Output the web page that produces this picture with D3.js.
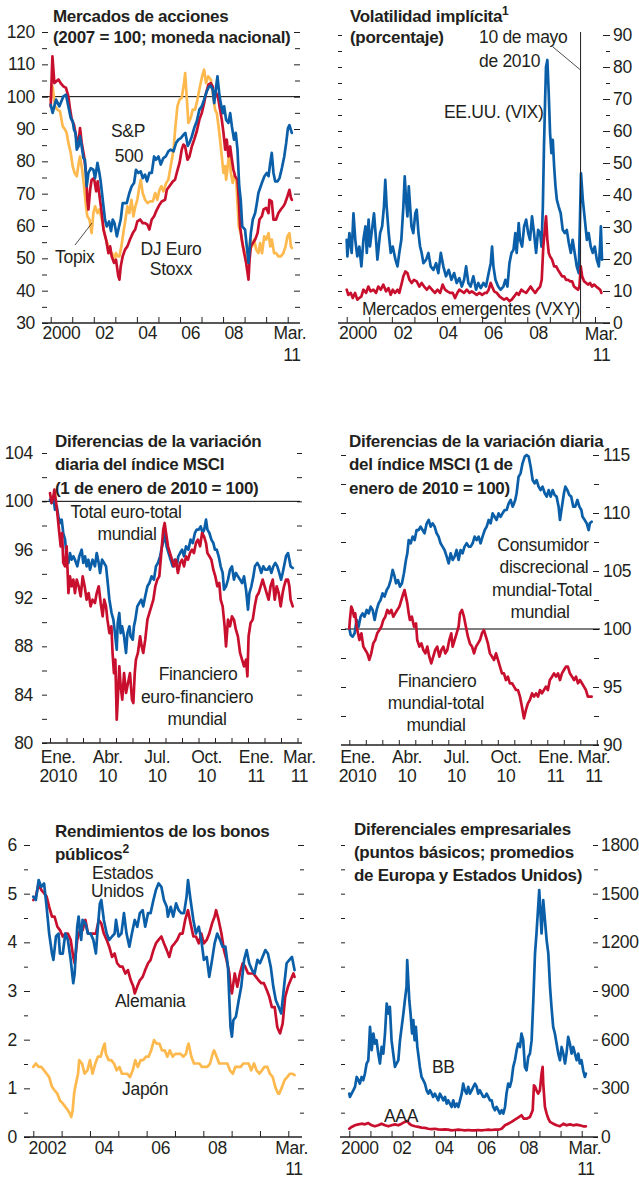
<!DOCTYPE html>
<html>
<head>
<meta charset="utf-8">
<script src="https://cdn.jsdelivr.net/npm/d3@7"></script>
<style>
  body { margin: 0; background: #fff; }
  svg text { font-family: "Liberation Sans", Arial, sans-serif; fill: #231f20; }
  .tick text, .xlab, .lab { font-size: 17.5px; letter-spacing: -0.3px; }
  .title { font-size: 17px; font-weight: bold; letter-spacing: -0.3px; }
</style>
</head>
<body>
<svg width="639" height="1179"></svg>
<script>

// DATA ––––––––––––––––––––––––––––––––––––––––––––––––––––––––––––––––
// [decimal year, value]

// Mercados de acciones (2007 = 100)
const spx = [[2000.0,97.5],[2000.09,95.0],[2000.25,99.1],[2000.40,97.0],[2000.59,100.1],[2000.71,100.6],[2000.82,97.0],[2000.93,93.4],[2001.02,92.4],[2001.08,89.8],[2001.15,88.8],[2001.21,83.6],[2001.28,84.6],[2001.36,87.7],[2001.44,84.6],[2001.52,81.0],[2001.59,80.5],[2001.67,72.3],[2001.75,76.4],[2001.86,77.9],[2001.98,77.4],[2002.06,74.8],[2002.17,79.5],[2002.26,76.4],[2002.32,73.8],[2002.45,66.1],[2002.52,62.0],[2002.60,59.9],[2002.71,61.4],[2002.80,58.4],[2002.88,62.0],[2002.96,60.9],[2003.07,56.8],[2003.14,58.9],[2003.25,62.0],[2003.34,67.1],[2003.53,67.1],[2003.65,70.2],[2003.76,72.3],[2003.87,73.3],[2003.96,77.4],[2004.07,76.4],[2004.18,76.9],[2004.27,74.8],[2004.38,75.9],[2004.47,73.8],[2004.58,76.4],[2004.69,76.4],[2004.80,81.5],[2004.89,80.5],[2005.00,81.5],[2005.11,79.0],[2005.23,81.0],[2005.34,81.5],[2005.46,83.1],[2005.57,83.6],[2005.70,83.1],[2005.82,85.7],[2005.93,86.7],[2006.04,87.2],[2006.16,88.2],[2006.25,88.8],[2006.36,84.8],[2006.44,85.7],[2006.55,87.7],[2006.66,90.3],[2006.78,92.4],[2006.90,96.0],[2007.01,97.0],[2007.12,99.1],[2007.24,101.6],[2007.34,103.0],[2007.43,103.4],[2007.52,102.2],[2007.59,98.0],[2007.68,103.2],[2007.74,106.3],[2007.82,101.1],[2007.89,98.0],[2007.99,94.9],[2008.05,97.0],[2008.14,92.9],[2008.25,91.9],[2008.33,94.9],[2008.41,90.8],[2008.51,86.7],[2008.59,88.8],[2008.67,83.6],[2008.75,72.3],[2008.82,68.1],[2008.89,59.9],[2009.02,58.9],[2009.10,53.7],[2009.18,48.6],[2009.29,57.8],[2009.38,62.0],[2009.49,64.0],[2009.57,67.1],[2009.64,70.2],[2009.80,73.3],[2009.92,75.4],[2010.03,76.4],[2010.11,75.4],[2010.19,79.5],[2010.26,82.6],[2010.34,76.4],[2010.42,73.8],[2010.53,73.8],[2010.62,74.8],[2010.73,77.9],[2010.84,81.5],[2010.93,85.7],[2011.01,90.2],[2011.08,91.2],[2011.19,88.8]];
const euroStoxx = [[2000.0,97.0],[2000.08,112.5],[2000.17,104.2],[2000.36,105.3],[2000.46,104.2],[2000.59,103.2],[2000.71,102.7],[2000.82,100.1],[2000.90,96.0],[2000.98,92.9],[2001.08,91.3],[2001.21,86.7],[2001.28,84.6],[2001.36,90.3],[2001.44,85.7],[2001.55,81.5],[2001.64,76.4],[2001.70,68.1],[2001.75,65.1],[2001.83,71.2],[2001.90,74.3],[2002.01,74.8],[2002.11,70.7],[2002.18,73.8],[2002.29,68.1],[2002.37,64.0],[2002.45,58.9],[2002.57,55.8],[2002.68,51.6],[2002.76,53.7],[2002.83,50.6],[2002.94,48.6],[2003.03,49.6],[2003.14,44.4],[2003.19,43.4],[2003.25,47.5],[2003.34,50.6],[2003.45,52.7],[2003.56,53.7],[2003.68,55.8],[2003.81,57.8],[2003.92,58.9],[2004.02,61.4],[2004.15,62.0],[2004.27,60.9],[2004.38,60.9],[2004.49,60.4],[2004.58,58.9],[2004.69,62.0],[2004.80,63.0],[2004.89,64.5],[2005.05,66.6],[2005.15,67.6],[2005.31,68.1],[2005.39,71.2],[2005.51,72.3],[2005.67,73.8],[2005.77,74.3],[2005.85,76.4],[2005.98,79.5],[2006.08,83.6],[2006.16,85.2],[2006.24,84.6],[2006.35,80.5],[2006.44,81.5],[2006.55,84.6],[2006.66,86.7],[2006.78,89.3],[2006.90,92.9],[2007.01,94.9],[2007.12,98.0],[2007.21,101.1],[2007.32,103.7],[2007.43,104.2],[2007.52,103.2],[2007.59,99.1],[2007.68,101.1],[2007.76,100.1],[2007.86,96.0],[2007.94,92.9],[2008.02,88.8],[2008.10,83.6],[2008.17,86.7],[2008.25,81.5],[2008.33,84.6],[2008.41,80.5],[2008.48,77.4],[2008.56,75.4],[2008.67,74.3],[2008.73,68.1],[2008.79,59.9],[2008.87,55.8],[2008.98,51.6],[2009.07,48.6],[2009.18,43.4],[2009.23,49.6],[2009.29,53.7],[2009.38,54.7],[2009.49,55.8],[2009.60,57.8],[2009.69,62.0],[2009.80,63.0],[2009.88,65.1],[2010.00,65.6],[2010.11,64.0],[2010.15,68.1],[2010.26,67.6],[2010.34,62.0],[2010.46,62.0],[2010.57,64.0],[2010.68,65.1],[2010.80,66.1],[2010.88,67.1],[2010.99,69.2],[2011.08,71.2],[2011.15,68.7],[2011.19,68.1]];
const topix = [[2000.0,99.1],[2000.09,103.2],[2000.20,97.0],[2000.31,96.0],[2000.43,95.5],[2000.56,90.8],[2000.67,89.8],[2000.74,88.8],[2000.82,85.7],[2000.93,82.6],[2001.02,78.5],[2001.11,76.4],[2001.21,75.4],[2001.30,79.5],[2001.36,81.5],[2001.46,77.4],[2001.55,72.3],[2001.64,66.1],[2001.70,63.0],[2001.80,62.0],[2001.90,57.8],[2001.98,64.0],[2002.06,66.1],[2002.17,64.0],[2002.26,65.1],[2002.34,63.0],[2002.41,60.9],[2002.49,57.8],[2002.57,55.8],[2002.68,53.7],[2002.76,51.6],[2002.85,51.6],[2002.94,49.6],[2003.03,51.6],[2003.10,50.6],[2003.19,50.6],[2003.28,53.7],[2003.37,57.8],[2003.47,62.0],[2003.56,66.1],[2003.65,64.0],[2003.75,68.1],[2003.84,63.0],[2003.93,66.1],[2004.02,68.1],[2004.12,72.3],[2004.18,74.3],[2004.27,70.2],[2004.38,68.1],[2004.49,67.1],[2004.61,67.6],[2004.74,67.6],[2004.85,70.2],[2004.95,68.1],[2005.05,71.2],[2005.14,72.3],[2005.23,70.7],[2005.36,73.3],[2005.46,74.3],[2005.57,78.5],[2005.70,83.6],[2005.79,90.8],[2005.88,97.0],[2005.98,99.1],[2006.08,99.6],[2006.19,104.2],[2006.24,107.3],[2006.32,99.1],[2006.39,91.9],[2006.50,93.4],[2006.59,96.0],[2006.70,96.0],[2006.81,99.1],[2006.93,103.2],[2007.03,106.3],[2007.12,108.4],[2007.21,104.2],[2007.31,106.3],[2007.43,105.3],[2007.52,101.1],[2007.63,96.0],[2007.71,94.9],[2007.79,90.8],[2007.86,86.7],[2007.94,81.5],[2008.02,76.4],[2008.10,78.5],[2008.14,74.3],[2008.20,77.4],[2008.30,83.6],[2008.36,76.4],[2008.45,73.3],[2008.51,75.4],[2008.61,74.3],[2008.67,67.1],[2008.73,59.9],[2008.82,57.8],[2008.92,53.7],[2009.01,51.6],[2009.10,48.6],[2009.18,48.6],[2009.26,55.8],[2009.35,53.7],[2009.44,55.8],[2009.54,52.7],[2009.64,51.6],[2009.72,54.7],[2009.81,51.6],[2009.91,56.8],[2010.00,55.8],[2010.11,57.8],[2010.19,53.7],[2010.26,55.8],[2010.37,51.6],[2010.46,51.6],[2010.57,50.6],[2010.68,50.6],[2010.80,51.6],[2010.90,53.7],[2010.99,56.8],[2011.08,57.8],[2011.15,53.7],[2011.19,53.2]];

// Volatilidad implícita (porcentaje)
const vix = [[2000.0,26.0],[2000.03,20.8],[2000.12,28.1],[2000.22,21.9],[2000.30,34.3],[2000.38,26.0],[2000.47,20.8],[2000.56,23.9],[2000.65,17.7],[2000.74,26.0],[2000.83,30.2],[2000.89,21.9],[2000.97,32.3],[2001.03,23.9],[2001.12,29.1],[2001.21,34.3],[2001.30,26.0],[2001.36,19.8],[2001.48,28.1],[2001.57,30.2],[2001.65,36.4],[2001.71,44.7],[2001.77,36.4],[2001.86,28.1],[2001.95,21.9],[2002.04,23.9],[2002.16,19.8],[2002.25,17.7],[2002.33,21.9],[2002.42,26.0],[2002.51,36.4],[2002.57,45.8],[2002.63,38.5],[2002.69,33.3],[2002.75,42.7],[2002.81,36.4],[2002.87,30.2],[2002.95,28.1],[2003.04,34.3],[2003.10,35.4],[2003.18,28.1],[2003.25,23.9],[2003.32,21.9],[2003.40,18.7],[2003.52,19.8],[2003.62,21.9],[2003.72,17.7],[2003.84,16.6],[2003.96,18.7],[2004.06,15.6],[2004.17,21.9],[2004.28,17.7],[2004.40,14.6],[2004.52,16.6],[2004.64,13.5],[2004.76,15.6],[2004.87,12.5],[2004.99,14.0],[2005.10,11.4],[2005.20,13.5],[2005.29,17.7],[2005.39,12.5],[2005.49,11.4],[2005.61,14.6],[2005.73,10.4],[2005.83,12.5],[2005.94,10.9],[2006.06,12.5],[2006.17,11.4],[2006.29,15.6],[2006.38,18.7],[2006.44,23.9],[2006.50,17.7],[2006.59,13.5],[2006.71,11.4],[2006.82,10.4],[2006.94,11.4],[2007.03,13.5],[2007.12,11.4],[2007.21,18.7],[2007.30,21.9],[2007.39,22.9],[2007.47,28.1],[2007.53,21.9],[2007.62,31.2],[2007.68,26.0],[2007.77,23.9],[2007.86,30.2],[2007.95,32.3],[2008.04,28.1],[2008.12,26.0],[2008.21,33.3],[2008.30,28.1],[2008.39,21.9],[2008.48,29.1],[2008.57,28.1],[2008.63,23.9],[2008.69,36.4],[2008.74,55.2],[2008.79,69.7],[2008.83,80.1],[2008.89,82.2],[2008.95,71.8],[2009.01,59.3],[2009.07,53.1],[2009.13,57.2],[2009.19,48.9],[2009.25,42.7],[2009.31,38.5],[2009.39,36.4],[2009.48,34.3],[2009.57,29.1],[2009.66,28.1],[2009.75,29.1],[2009.84,25.0],[2009.93,21.9],[2010.01,26.0],[2010.10,21.9],[2010.19,17.7],[2010.28,15.6],[2010.34,34.3],[2010.38,46.8],[2010.46,38.5],[2010.55,32.3],[2010.64,26.0],[2010.72,28.1],[2010.81,23.9],[2010.90,21.9],[2010.99,23.9],[2011.08,19.8],[2011.17,17.7],[2011.23,25.0],[2011.26,30.2],[2011.31,19.8]];
const vxy = [[2000.0,10.4],[2000.07,8.8],[2000.18,9.4],[2000.27,7.8],[2000.37,9.4],[2000.47,7.3],[2000.56,7.8],[2000.65,8.3],[2000.74,10.4],[2000.86,9.4],[2000.96,11.4],[2001.06,9.9],[2001.18,10.4],[2001.30,9.4],[2001.40,11.4],[2001.51,10.4],[2001.62,12.0],[2001.74,9.9],[2001.85,10.9],[2001.95,8.8],[2002.04,10.4],[2002.14,9.4],[2002.25,10.4],[2002.33,9.4],[2002.44,12.5],[2002.51,14.6],[2002.60,16.1],[2002.69,15.6],[2002.78,13.5],[2002.88,12.5],[2002.98,13.5],[2003.10,13.0],[2003.22,11.4],[2003.32,12.5],[2003.43,11.4],[2003.55,10.4],[2003.66,11.4],[2003.78,10.4],[2003.91,9.4],[2004.02,10.4],[2004.14,9.4],[2004.25,12.0],[2004.36,10.4],[2004.46,9.9],[2004.58,9.4],[2004.70,9.4],[2004.80,7.8],[2004.90,9.4],[2004.99,10.4],[2005.10,9.9],[2005.20,9.4],[2005.32,10.4],[2005.44,9.4],[2005.54,9.9],[2005.64,9.4],[2005.76,8.8],[2005.88,9.4],[2006.00,8.8],[2006.12,9.4],[2006.20,9.4],[2006.29,10.4],[2006.38,12.5],[2006.44,11.4],[2006.53,9.9],[2006.65,9.4],[2006.77,8.3],[2006.87,7.8],[2006.97,7.3],[2007.09,7.8],[2007.21,6.8],[2007.31,7.3],[2007.42,8.3],[2007.53,9.4],[2007.62,8.8],[2007.74,10.4],[2007.83,9.9],[2007.95,9.4],[2008.05,10.4],[2008.15,11.4],[2008.24,10.4],[2008.35,9.4],[2008.45,10.4],[2008.57,11.4],[2008.64,13.5],[2008.71,23.9],[2008.79,30.2],[2008.83,33.3],[2008.89,26.0],[2008.95,21.9],[2009.01,20.8],[2009.10,19.8],[2009.19,17.7],[2009.28,17.7],[2009.36,16.6],[2009.45,15.6],[2009.54,14.6],[2009.63,14.6],[2009.72,13.5],[2009.81,13.5],[2009.90,13.0],[2009.99,13.0],[2010.07,11.4],[2010.16,10.9],[2010.25,10.4],[2010.31,11.4],[2010.37,17.7],[2010.43,14.6],[2010.52,13.0],[2010.61,12.5],[2010.69,12.0],[2010.78,12.5],[2010.87,11.4],[2010.96,12.0],[2011.05,11.4],[2011.14,10.9],[2011.23,10.4],[2011.28,9.4]];
const flashCrash = 2010.36;

// Diferencias MSCI, zona del euro (1 de enero de 2010 = 100)
const totalEuro = [[2010.000,100.14],[2010.008,99.86],[2010.017,100.41],[2010.025,99.31],[2010.034,99.59],[2010.042,98.76],[2010.051,98.21],[2010.059,98.48],[2010.067,97.38],[2010.076,96.83],[2010.084,95.45],[2010.093,94.90],[2010.101,95.72],[2010.109,95.17],[2010.118,95.45],[2010.126,95.17],[2010.138,94.62],[2010.148,95.45],[2010.160,96.00],[2010.168,94.90],[2010.177,95.45],[2010.185,94.62],[2010.194,95.17],[2010.202,94.34],[2010.215,95.17],[2010.227,94.62],[2010.236,95.72],[2010.246,94.90],[2010.253,94.07],[2010.263,95.17],[2010.273,94.90],[2010.283,94.62],[2010.290,93.52],[2010.300,91.86],[2010.311,90.76],[2010.320,90.21],[2010.328,89.10],[2010.337,87.72],[2010.342,89.93],[2010.350,90.76],[2010.357,89.10],[2010.364,89.66],[2010.374,88.83],[2010.384,87.45],[2010.391,89.10],[2010.401,89.66],[2010.407,88.83],[2010.418,88.55],[2010.424,89.66],[2010.431,90.21],[2010.441,91.31],[2010.451,91.59],[2010.461,91.86],[2010.471,91.31],[2010.481,92.14],[2010.492,92.97],[2010.502,93.24],[2010.513,93.79],[2010.525,93.52],[2010.535,94.62],[2010.545,94.90],[2010.556,95.45],[2010.566,96.28],[2010.576,96.83],[2010.582,97.38],[2010.589,96.28],[2010.599,95.72],[2010.609,95.17],[2010.620,94.62],[2010.630,95.17],[2010.640,94.62],[2010.648,95.45],[2010.657,95.72],[2010.667,96.00],[2010.677,95.45],[2010.687,96.28],[2010.699,96.00],[2010.710,96.83],[2010.721,96.55],[2010.732,97.38],[2010.741,97.66],[2010.751,97.66],[2010.761,97.93],[2010.771,97.38],[2010.779,97.66],[2010.788,98.48],[2010.795,97.66],[2010.805,97.38],[2010.815,96.83],[2010.825,96.55],[2010.833,96.00],[2010.842,96.00],[2010.852,95.45],[2010.862,94.62],[2010.872,94.07],[2010.879,92.69],[2010.889,92.97],[2010.899,93.52],[2010.909,94.34],[2010.919,94.62],[2010.929,93.52],[2010.939,94.07],[2010.949,93.79],[2010.960,93.52],[2010.970,93.24],[2010.980,93.79],[2010.990,92.69],[2011.000,91.03],[2011.007,92.41],[2011.017,92.97],[2011.027,93.79],[2011.035,94.62],[2011.047,94.90],[2011.057,94.62],[2011.067,94.07],[2011.077,94.62],[2011.088,94.34],[2011.098,94.34],[2011.108,94.62],[2011.118,94.07],[2011.128,94.62],[2011.138,94.90],[2011.148,94.62],[2011.158,94.07],[2011.167,93.52],[2011.175,94.07],[2011.182,94.62],[2011.192,95.45],[2011.202,95.72],[2011.209,95.17],[2011.215,94.62],[2011.226,94.48]];
const finEuro = [[2010.000,100.69],[2010.008,99.86],[2010.017,100.41],[2010.022,100.97],[2010.029,100.14],[2010.037,99.03],[2010.047,97.38],[2010.054,96.28],[2010.061,97.38],[2010.067,94.90],[2010.076,94.62],[2010.084,96.28],[2010.093,92.41],[2010.101,93.79],[2010.109,92.97],[2010.118,93.52],[2010.126,92.41],[2010.135,93.52],[2010.145,92.97],[2010.155,92.14],[2010.165,93.79],[2010.175,92.97],[2010.185,91.86],[2010.195,92.41],[2010.205,91.31],[2010.215,91.86],[2010.227,91.59],[2010.236,92.41],[2010.246,92.97],[2010.256,91.59],[2010.266,90.48],[2010.274,91.86],[2010.283,91.31],[2010.290,90.21],[2010.300,89.10],[2010.310,89.66],[2010.316,87.45],[2010.323,85.79],[2010.330,86.90],[2010.337,81.93],[2010.343,83.86],[2010.350,86.34],[2010.357,84.69],[2010.365,83.59],[2010.374,85.79],[2010.384,84.14],[2010.394,84.97],[2010.404,85.79],[2010.414,83.59],[2010.421,83.31],[2010.428,85.79],[2010.434,86.90],[2010.444,87.45],[2010.455,88.83],[2010.463,88.00],[2010.471,87.45],[2010.481,88.55],[2010.492,90.21],[2010.502,90.76],[2010.512,91.31],[2010.522,91.86],[2010.532,92.97],[2010.542,93.52],[2010.552,93.79],[2010.562,95.72],[2010.572,97.66],[2010.579,98.21],[2010.586,97.38],[2010.596,96.28],[2010.606,95.72],[2010.616,95.17],[2010.626,94.62],[2010.636,95.17],[2010.646,94.07],[2010.657,94.90],[2010.667,95.17],[2010.677,94.62],[2010.687,95.45],[2010.697,95.17],[2010.707,95.72],[2010.717,96.00],[2010.727,95.72],[2010.737,96.55],[2010.747,96.83],[2010.758,96.28],[2010.768,97.38],[2010.778,97.10],[2010.788,96.55],[2010.795,95.72],[2010.805,95.45],[2010.815,95.17],[2010.825,94.34],[2010.835,93.79],[2010.845,92.97],[2010.855,93.24],[2010.862,91.86],[2010.872,91.31],[2010.882,89.66],[2010.889,88.00],[2010.899,90.21],[2010.909,89.66],[2010.919,90.48],[2010.929,90.21],[2010.939,89.38],[2010.949,88.83],[2010.960,87.45],[2010.970,86.90],[2010.980,86.34],[2010.990,86.90],[2010.997,85.52],[2011.003,88.83],[2011.013,89.93],[2011.024,90.21],[2011.034,91.31],[2011.044,92.14],[2011.054,92.41],[2011.064,92.97],[2011.074,93.52],[2011.084,92.97],[2011.094,92.41],[2011.104,91.86],[2011.114,92.97],[2011.125,93.52],[2011.135,91.86],[2011.145,92.97],[2011.155,92.41],[2011.165,91.31],[2011.175,92.41],[2011.182,92.97],[2011.192,93.52],[2011.202,93.52],[2011.209,92.97],[2011.215,91.86],[2011.226,91.31]];

// Diferencias MSCI, mundial (1 de enero de 2010 = 100)
const consDisc = [[2010.000,100.06],[2010.007,99.48],[2010.017,99.34],[2010.027,99.63],[2010.037,100.78],[2010.047,100.20],[2010.057,101.06],[2010.067,101.35],[2010.077,101.06],[2010.088,101.64],[2010.098,101.35],[2010.108,101.93],[2010.118,101.64],[2010.128,100.78],[2010.138,101.64],[2010.148,102.21],[2010.158,102.50],[2010.168,103.07],[2010.178,102.79],[2010.189,103.36],[2010.199,103.65],[2010.209,104.22],[2010.219,105.09],[2010.229,104.51],[2010.236,103.94],[2010.246,104.22],[2010.256,103.65],[2010.266,103.94],[2010.276,104.80],[2010.286,105.95],[2010.293,106.52],[2010.300,107.67],[2010.310,107.39],[2010.320,107.96],[2010.330,107.67],[2010.340,108.53],[2010.350,108.53],[2010.360,108.82],[2010.370,108.53],[2010.380,108.25],[2010.391,109.11],[2010.401,109.40],[2010.411,108.82],[2010.421,109.11],[2010.431,108.82],[2010.441,108.25],[2010.451,107.96],[2010.461,107.39],[2010.471,107.10],[2010.481,106.81],[2010.492,106.24],[2010.502,105.66],[2010.512,106.52],[2010.522,105.95],[2010.532,106.24],[2010.542,106.81],[2010.552,105.95],[2010.562,106.81],[2010.572,106.52],[2010.582,107.10],[2010.593,107.39],[2010.603,107.10],[2010.613,107.10],[2010.623,107.39],[2010.633,107.96],[2010.643,107.67],[2010.653,107.96],[2010.663,107.39],[2010.673,107.96],[2010.684,108.53],[2010.694,108.82],[2010.704,109.40],[2010.714,109.11],[2010.724,109.97],[2010.734,109.68],[2010.744,109.40],[2010.754,109.97],[2010.764,109.68],[2010.774,109.97],[2010.785,110.26],[2010.795,110.26],[2010.805,110.83],[2010.815,111.12],[2010.825,110.55],[2010.832,110.83],[2010.838,111.12],[2010.845,111.70],[2010.855,113.13],[2010.865,113.42],[2010.875,114.28],[2010.886,114.86],[2010.896,115.00],[2010.906,114.86],[2010.916,113.99],[2010.926,112.84],[2010.936,112.56],[2010.946,112.84],[2010.956,112.27],[2010.966,111.98],[2010.976,112.27],[2010.987,111.70],[2010.997,111.41],[2011.007,111.98],[2011.017,111.41],[2011.027,111.98],[2011.037,111.55],[2011.047,111.41],[2011.057,110.55],[2011.064,109.40],[2011.074,110.55],[2011.084,111.70],[2011.091,112.27],[2011.101,111.98],[2011.111,111.55],[2011.121,111.41],[2011.131,110.55],[2011.141,110.55],[2011.152,111.12],[2011.162,110.55],[2011.172,110.26],[2011.178,109.68],[2011.189,109.40],[2011.199,109.11],[2011.209,108.53],[2011.215,109.11],[2011.224,109.25]];
const finWorld = [[2010.000,100.06],[2010.003,100.78],[2010.010,101.93],[2010.017,101.64],[2010.024,101.06],[2010.030,101.35],[2010.037,100.20],[2010.044,99.63],[2010.051,99.05],[2010.061,99.63],[2010.071,98.48],[2010.081,98.19],[2010.091,97.90],[2010.101,97.33],[2010.111,97.90],[2010.121,98.76],[2010.131,99.05],[2010.141,99.63],[2010.152,99.91],[2010.162,100.20],[2010.172,100.78],[2010.182,101.06],[2010.192,101.64],[2010.202,101.35],[2010.212,101.64],[2010.222,101.06],[2010.232,101.35],[2010.242,101.64],[2010.253,101.93],[2010.263,102.50],[2010.273,103.07],[2010.279,103.36],[2010.286,102.79],[2010.293,102.21],[2010.300,101.35],[2010.306,100.78],[2010.316,101.06],[2010.327,100.20],[2010.337,100.49],[2010.343,99.05],[2010.354,98.48],[2010.364,98.76],[2010.374,98.19],[2010.384,97.90],[2010.394,98.48],[2010.404,97.61],[2010.414,97.04],[2010.424,97.61],[2010.434,98.19],[2010.444,98.48],[2010.455,97.61],[2010.465,98.19],[2010.475,98.48],[2010.485,97.90],[2010.495,98.19],[2010.505,99.05],[2010.515,99.63],[2010.522,98.48],[2010.532,99.05],[2010.542,99.63],[2010.552,100.20],[2010.559,101.35],[2010.569,101.64],[2010.579,101.06],[2010.589,100.20],[2010.599,99.34],[2010.609,98.76],[2010.620,98.48],[2010.630,97.90],[2010.640,98.48],[2010.650,98.76],[2010.660,99.05],[2010.670,99.63],[2010.680,99.91],[2010.690,99.34],[2010.700,98.76],[2010.710,97.90],[2010.721,97.61],[2010.731,97.33],[2010.741,97.90],[2010.751,97.33],[2010.761,96.75],[2010.771,96.18],[2010.781,96.18],[2010.791,95.60],[2010.801,95.89],[2010.811,95.32],[2010.822,95.32],[2010.832,95.03],[2010.842,94.74],[2010.852,94.74],[2010.862,94.17],[2010.872,93.30],[2010.882,92.30],[2010.892,93.02],[2010.902,93.59],[2010.912,93.88],[2010.923,94.45],[2010.933,94.17],[2010.943,94.45],[2010.953,94.17],[2010.963,94.74],[2010.973,94.45],[2010.983,94.74],[2010.993,95.03],[2011.003,94.74],[2011.013,95.60],[2011.024,95.89],[2011.034,96.18],[2011.044,95.89],[2011.054,96.18],[2011.064,95.60],[2011.074,96.18],[2011.084,96.47],[2011.094,96.75],[2011.104,96.75],[2011.114,96.18],[2011.125,95.89],[2011.135,95.60],[2011.145,95.89],[2011.155,95.32],[2011.165,95.60],[2011.175,95.32],[2011.185,95.03],[2011.195,94.74],[2011.205,94.17],[2011.215,94.17],[2011.224,94.17]];

// Rendimientos de los bonos públicos (porcentaje)
const usYield = [[2002.00,4.94],[2002.09,4.87],[2002.19,5.28],[2002.28,5.14],[2002.38,5.21],[2002.47,4.73],[2002.56,4.18],[2002.66,3.77],[2002.71,3.64],[2002.80,4.12],[2002.89,4.18],[2002.94,3.77],[2003.04,3.77],[2003.13,4.18],[2003.22,4.05],[2003.32,3.64],[2003.41,3.16],[2003.46,3.36],[2003.55,4.32],[2003.60,4.53],[2003.69,4.05],[2003.74,4.46],[2003.84,4.39],[2003.93,4.18],[2004.02,4.18],[2004.12,4.05],[2004.21,3.77],[2004.26,4.18],[2004.35,4.80],[2004.40,4.87],[2004.49,4.46],[2004.59,4.18],[2004.68,4.05],[2004.78,4.12],[2004.87,4.18],[2004.92,4.46],[2005.01,4.12],[2005.11,4.18],[2005.20,4.60],[2005.29,4.18],[2005.39,3.91],[2005.48,4.18],[2005.58,4.46],[2005.67,4.32],[2005.76,4.60],[2005.86,4.66],[2005.95,4.32],[2006.05,4.60],[2006.14,4.60],[2006.24,4.87],[2006.33,5.08],[2006.42,5.21],[2006.52,5.14],[2006.61,4.87],[2006.71,4.73],[2006.75,4.53],[2006.85,4.73],[2006.94,4.53],[2007.04,4.80],[2007.13,4.66],[2007.22,4.60],[2007.32,4.60],[2007.41,4.94],[2007.46,5.28],[2007.55,4.87],[2007.65,4.46],[2007.74,4.18],[2007.84,4.32],[2007.93,4.05],[2008.02,3.64],[2008.12,3.70],[2008.21,3.29],[2008.31,3.64],[2008.40,3.98],[2008.49,4.18],[2008.59,4.05],[2008.68,3.91],[2008.78,3.91],[2008.87,3.50],[2008.92,2.81],[2008.96,2.26],[2009.01,2.06],[2009.06,2.40],[2009.15,2.47],[2009.25,2.81],[2009.34,3.09],[2009.44,3.64],[2009.53,3.84],[2009.62,3.57],[2009.72,3.43],[2009.81,3.36],[2009.91,3.64],[2010.00,3.57],[2010.09,3.70],[2010.19,3.84],[2010.28,3.77],[2010.38,3.50],[2010.47,3.09],[2010.56,2.81],[2010.66,2.67],[2010.75,2.54],[2010.85,3.09],[2010.94,3.57],[2011.04,3.64],[2011.13,3.70],[2011.22,3.43]];
const deYield = [[2002.00,4.87],[2002.09,4.94],[2002.19,5.21],[2002.28,5.08],[2002.38,5.01],[2002.47,4.94],[2002.56,4.73],[2002.66,4.53],[2002.75,4.53],[2002.85,4.32],[2002.94,4.25],[2003.04,4.12],[2003.13,4.18],[2003.22,4.18],[2003.32,4.05],[2003.41,3.70],[2003.46,3.57],[2003.55,4.05],[2003.65,4.25],[2003.74,4.25],[2003.84,4.46],[2003.93,4.18],[2004.02,4.18],[2004.12,4.18],[2004.21,4.18],[2004.31,4.46],[2004.40,4.39],[2004.49,4.18],[2004.59,4.05],[2004.68,3.91],[2004.78,3.70],[2004.87,3.77],[2004.96,3.57],[2005.06,3.50],[2005.15,3.50],[2005.25,3.36],[2005.34,3.43],[2005.44,3.22],[2005.53,3.09],[2005.58,2.95],[2005.67,3.09],[2005.76,3.22],[2005.86,3.29],[2005.95,3.43],[2006.05,3.57],[2006.14,3.64],[2006.24,3.84],[2006.33,3.98],[2006.42,4.05],[2006.52,4.12],[2006.61,3.98],[2006.71,3.84],[2006.80,3.70],[2006.89,3.91],[2006.99,3.98],[2007.08,4.05],[2007.18,4.18],[2007.27,4.18],[2007.36,4.46],[2007.46,4.66],[2007.55,4.39],[2007.65,4.12],[2007.74,4.12],[2007.84,3.98],[2007.93,4.18],[2008.02,3.98],[2008.12,4.05],[2008.21,4.18],[2008.31,4.39],[2008.40,4.53],[2008.45,4.66],[2008.54,4.46],[2008.64,4.18],[2008.73,3.84],[2008.82,3.64],[2008.92,3.36],[2008.96,3.09],[2009.01,2.95],[2009.11,3.36],[2009.20,3.09],[2009.29,3.36],[2009.39,3.57],[2009.48,3.50],[2009.58,3.36],[2009.67,3.36],[2009.76,3.36],[2009.86,3.29],[2009.95,3.22],[2010.05,3.16],[2010.14,3.16],[2010.24,3.02],[2010.33,2.88],[2010.42,2.67],[2010.52,2.67],[2010.61,2.26],[2010.66,2.19],[2010.71,2.13],[2010.80,2.33],[2010.89,2.88],[2010.99,3.09],[2011.08,3.22],[2011.18,3.36],[2011.22,3.29]];
const jpYield = [[2002.00,1.44],[2002.09,1.51],[2002.19,1.44],[2002.28,1.44],[2002.38,1.37],[2002.47,1.30],[2002.56,1.23],[2002.66,1.03],[2002.75,0.96],[2002.85,0.89],[2002.94,0.75],[2003.04,0.69],[2003.13,0.62],[2003.22,0.55],[2003.29,0.48],[2003.34,0.41],[2003.39,0.55],[2003.44,0.89],[2003.48,1.03],[2003.58,1.30],[2003.62,1.58],[2003.72,1.51],[2003.81,1.30],[2003.91,1.37],[2004.00,1.58],[2004.09,1.30],[2004.19,1.51],[2004.28,1.65],[2004.38,1.65],[2004.47,1.85],[2004.52,1.92],[2004.56,1.71],[2004.66,1.58],[2004.75,1.58],[2004.85,1.51],[2004.94,1.37],[2005.04,1.44],[2005.13,1.30],[2005.22,1.30],[2005.32,1.30],[2005.41,1.23],[2005.51,1.37],[2005.60,1.58],[2005.69,1.44],[2005.79,1.58],[2005.88,1.58],[2005.98,1.65],[2006.07,1.65],[2006.16,1.78],[2006.26,1.99],[2006.35,1.92],[2006.45,1.92],[2006.54,1.78],[2006.64,1.78],[2006.73,1.65],[2006.82,1.78],[2006.92,1.65],[2007.01,1.71],[2007.11,1.71],[2007.20,1.71],[2007.29,1.65],[2007.39,1.71],[2007.44,1.85],[2007.48,1.92],[2007.58,1.65],[2007.67,1.51],[2007.76,1.51],[2007.86,1.51],[2007.95,1.44],[2008.05,1.44],[2008.14,1.44],[2008.24,1.51],[2008.33,1.71],[2008.38,1.78],[2008.47,1.65],[2008.56,1.51],[2008.66,1.51],[2008.75,1.51],[2008.85,1.51],[2008.94,1.37],[2009.04,1.30],[2009.13,1.44],[2009.22,1.44],[2009.32,1.44],[2009.41,1.51],[2009.51,1.51],[2009.60,1.51],[2009.69,1.37],[2009.79,1.51],[2009.88,1.37],[2009.98,1.30],[2010.07,1.37],[2010.16,1.44],[2010.26,1.44],[2010.35,1.30],[2010.45,1.23],[2010.54,1.03],[2010.64,0.89],[2010.68,0.89],[2010.78,1.03],[2010.87,1.17],[2010.96,1.23],[2011.06,1.30],[2011.15,1.30],[2011.22,1.27]];

// Diferenciales empresariales (puntos básicos)
const bbSpread = [[2000.00,267],[2000.03,247],[2000.11,267],[2000.19,288],[2000.27,309],[2000.35,370],[2000.43,350],[2000.50,329],[2000.58,370],[2000.66,350],[2000.74,391],[2000.82,453],[2000.90,473],[2000.98,679],[2001.06,535],[2001.14,638],[2001.21,576],[2001.29,597],[2001.37,514],[2001.45,453],[2001.53,555],[2001.61,514],[2001.69,638],[2001.77,823],[2001.85,761],[2001.92,802],[2002.00,597],[2002.08,514],[2002.16,432],[2002.24,453],[2002.32,473],[2002.40,597],[2002.48,679],[2002.56,761],[2002.63,843],[2002.71,926],[2002.74,1090],[2002.79,967],[2002.84,843],[2002.90,761],[2002.97,638],[2003.03,720],[2003.09,597],[2003.15,679],[2003.22,555],[2003.28,494],[2003.34,432],[2003.42,370],[2003.50,350],[2003.58,329],[2003.66,288],[2003.74,267],[2003.82,288],[2003.90,267],[2003.97,247],[2004.05,267],[2004.13,247],[2004.21,226],[2004.29,267],[2004.37,247],[2004.45,226],[2004.53,247],[2004.61,206],[2004.68,226],[2004.76,206],[2004.84,185],[2004.92,226],[2005.00,185],[2005.08,206],[2005.16,185],[2005.24,226],[2005.32,267],[2005.39,329],[2005.47,288],[2005.55,267],[2005.63,309],[2005.71,267],[2005.79,288],[2005.87,309],[2005.95,329],[2006.03,309],[2006.10,267],[2006.18,288],[2006.26,267],[2006.34,247],[2006.42,247],[2006.50,267],[2006.58,247],[2006.66,226],[2006.74,226],[2006.81,185],[2006.89,165],[2006.97,185],[2007.05,165],[2007.13,144],[2007.21,165],[2007.29,144],[2007.37,185],[2007.44,267],[2007.52,329],[2007.60,309],[2007.68,350],[2007.76,432],[2007.84,473],[2007.92,535],[2007.99,576],[2008.08,555],[2008.15,638],[2008.23,597],[2008.31,432],[2008.39,411],[2008.47,494],[2008.55,514],[2008.63,597],[2008.71,843],[2008.79,1131],[2008.86,1255],[2008.94,1419],[2008.99,1522],[2009.05,1378],[2009.10,1255],[2009.18,1460],[2009.26,1337],[2009.34,1214],[2009.42,1131],[2009.50,926],[2009.57,802],[2009.65,679],[2009.73,638],[2009.81,576],[2009.89,514],[2009.97,473],[2010.05,555],[2010.13,514],[2010.21,453],[2010.28,514],[2010.36,617],[2010.44,576],[2010.52,514],[2010.60,555],[2010.68,514],[2010.76,473],[2010.84,514],[2010.91,453],[2010.99,473],[2011.07,411],[2011.15,370],[2011.20,391]];
const aaaSpread = [[2000.00,51],[2000.11,62],[2000.27,72],[2000.43,78],[2000.58,82],[2000.74,78],[2000.90,86],[2001.06,72],[2001.21,66],[2001.37,72],[2001.53,82],[2001.69,72],[2001.85,66],[2002.00,72],[2002.16,78],[2002.32,72],[2002.48,82],[2002.63,93],[2002.74,99],[2002.84,82],[2002.95,72],[2003.11,66],[2003.27,62],[2003.42,58],[2003.58,56],[2003.74,51],[2003.90,49],[2004.05,51],[2004.21,47],[2004.37,45],[2004.53,47],[2004.68,45],[2004.84,41],[2005.00,43],[2005.16,45],[2005.32,43],[2005.47,41],[2005.63,43],[2005.79,41],[2005.95,41],[2006.10,43],[2006.26,41],[2006.42,43],[2006.58,45],[2006.74,43],[2006.89,45],[2007.05,45],[2007.21,51],[2007.37,72],[2007.52,82],[2007.68,93],[2007.84,107],[2007.99,119],[2008.15,134],[2008.26,113],[2008.39,113],[2008.55,123],[2008.68,165],[2008.74,319],[2008.80,309],[2008.86,288],[2008.94,267],[2009.02,288],[2009.10,391],[2009.15,432],[2009.18,329],[2009.26,185],[2009.34,144],[2009.42,113],[2009.50,93],[2009.65,82],[2009.81,72],[2009.97,66],[2010.13,82],[2010.28,72],[2010.44,78],[2010.60,72],[2010.76,76],[2010.91,72],[2011.07,66],[2011.20,66]];

// axis labels
const yearTicks = d3.range(2000, 2012);
const yearTicksBonds = d3.range(2002, 2012);
const monthTicks = d3.range(0, 16).map(k => 2010 + k / 12);
const yearLabels = ["2000", "02", "04", "06", "08"];
const yearLabelsBonds = ["2002", "04", "06", "08"];
const monthLabels = ["Ene.", "Abr.", "Jul.", "Oct.", "Ene."];
const monthYearLabels = ["2010", "10", "10", "10", "11"];

const blue = "#0a5fa8", red = "#c8102e", yellow = "#fdb94e", ink = "#231f20";

// DRAW ––––––––––––––––––––––––––––––––––––––––––––––––––––––––––––––––

const svg = d3.select("svg");
svg.append("rect").attr("width", 639).attr("height", 1179).attr("fill", "#fff");

function panel(p) {
  const x = d3.scaleLinear().domain(p.xDomain).range(p.xRange);
  const y = d3.scaleLinear().domain(p.yDomain).range(p.yRange);
  const g = svg.append("g").style("color", ink);
  const base = p.yRange[0];
  const majors = d3.range(p.yDomain[0], p.yDomain[1] + 1e-6, p.major);
  const minors = d3.range(p.yDomain[0], p.yDomain[1] + 1e-6, p.minor)
    .filter(v => !majors.some(m => Math.abs(m - v) < 1e-6));

  const noDomain = s => s.select(".domain").remove();
  const left = p.side === "left";
  const L = left ? d3.axisLeft : d3.axisRight;
  const O = left ? d3.axisRight : d3.axisLeft;
  const lx = left ? p.leftTick : p.rightTick;
  const ox = left ? p.rightTick : p.leftTick;

  g.append("g").attr("transform", `translate(${lx},0)`)
    .call(L(y).tickValues(majors).tickSize(-p.majorLen).tickPadding(p.pad).tickFormat(d => String(d)))
    .call(noDomain);
  g.append("g").attr("transform", `translate(${lx},0)`)
    .call(L(y).tickValues(minors).tickSize(-p.minorLen).tickFormat(""))
    .call(noDomain);
  g.append("g").attr("transform", `translate(${ox},0)`)
    .call(O(y).tickValues(majors.slice(1)).tickSize(-p.majorLen2).tickFormat(""))
    .call(noDomain);
  g.append("g").attr("transform", `translate(${ox},0)`)
    .call(O(y).tickValues(minors).tickSize(-p.minorLen).tickFormat(""))
    .call(noDomain);

  // x axis
  g.append("g").attr("transform", `translate(0,${base})`)
    .call(d3.axisBottom(x).tickValues(p.xTicks).tickSize(-p.xTickLen).tickFormat(""))
    .call(noDomain);
  g.append("line").attr("x1", p.span[0]).attr("x2", p.span[1])
    .attr("y1", base).attr("y2", base).attr("stroke", ink).attr("stroke-width", 1.3);

  return { x, y, g };
}

function line(P, data, color) {
  P.g.append("path").datum(data)
    .attr("fill", "none").attr("stroke", color)
    .attr("stroke-width", 2.7).attr("stroke-linejoin", "round").attr("stroke-linecap", "round")
    .attr("d", d3.line().x(d => P.x(d[0])).y(d => P.y(d[1])));
}

function refLine(P, v, x0, x1) {
  P.g.append("line").attr("x1", x0).attr("x2", x1)
    .attr("y1", P.y(v)).attr("y2", P.y(v)).attr("stroke", "#000").attr("stroke-width", 1);
}

function text(str, x, y, cls, anchor) {
  return svg.append("text").attr("class", cls || "lab").attr("x", x).attr("y", y)
    .attr("text-anchor", anchor || "start").text(str);
}

function xLabels(P, labels, pos, y1, y2, second) {
  labels.forEach((t, i) => {
    text(t, P.x(pos[i]), y1, "xlab", "middle");
    if (second) text(second[i], P.x(pos[i]), y2, "xlab", "middle");
  });
}

function title(lines, x, y0, step) {
  lines.forEach((l, i) => {
    const t = text("", x, y0 + i * step, "title");
    t.append("tspan").text(l[0]);
    if (l[1]) t.append("tspan").attr("dy", -7).attr("font-size", 12).text(l[1]);
  });
}

// 1. Mercados de acciones
const p1 = panel({ xDomain: [2000, 2011], xRange: [50.7, 287.7], yDomain: [30, 120], yRange: [323, 32],
  side: "left", leftTick: 42, rightTick: 300, major: 10, minor: 5, majorLen: 6, majorLen2: 6, minorLen: 5,
  pad: 7, xTicks: yearTicks, xTickLen: 6, span: [42, 300] });
refLine(p1, 100, 42, 300);
line(p1, topix, yellow);
line(p1, euroStoxx, red);
line(p1, spx, blue);
xLabels(p1, yearLabels, [2000.5, 2002.5, 2004.5, 2006.5, 2008.5], 339);
text("Mar.", p1.x(2011.1), 339, "xlab", "middle");
text("11", p1.x(2011.2), 361, "xlab", "middle");
title([["Mercados de acciones"], ["(2007 = 100; moneda nacional)"]], 53, 21.7, 21.7);
text("S&P", 128, 137, "lab", "middle");
text("500", 129, 162, "lab", "middle");
text("Topix", 55, 263);
svg.append("line").attr("x1", 75).attr("y1", 245).attr("x2", 92).attr("y2", 223).attr("stroke", ink).attr("stroke-width", 0.8);
text("DJ Euro", 171, 255, "lab", "middle");
text("Stoxx", 171, 275, "lab", "middle");

// 2. Volatilidad implícita
const p2 = panel({ xDomain: [2000, 2011], xRange: [346.7, 595], yDomain: [0, 90], yRange: [323, 35],
  side: "right", leftTick: 338, rightTick: 610, major: 10, minor: 5, majorLen: 7, majorLen2: 4, minorLen: 4,
  pad: 3, xTicks: yearTicks, xTickLen: 6, span: [338, 610] });
line(p2, vix, blue);
line(p2, vxy, red);
p2.g.append("line").attr("x1", p2.x(flashCrash)).attr("x2", p2.x(flashCrash))
  .attr("y1", 32).attr("y2", 323).attr("stroke", ink).attr("stroke-width", 1);
svg.append("line").attr("x1", 553).attr("y1", 47).attr("x2", p2.x(flashCrash)).attr("y2", 70).attr("stroke", ink).attr("stroke-width", 0.8);
xLabels(p2, yearLabels, [2000.5, 2002.5, 2004.5, 2006.5, 2008.5], 339);
text("Mar.", p2.x(2011.27), 340, "xlab", "middle");
text("11", p2.x(2011.29), 361, "xlab", "middle");
title([["Volatilidad implícita", "1"], ["(porcentaje)"]], 350, 21.7, 21.7);
text("10 de mayo", 479, 43);
text("de 2010", 479, 66.7);
text("EE.UU. (VIX)", 444, 118);
text("Mercados emergentes  (VXY)", 362, 315);

// 3. Diferencias MSCI (euro)
const p3 = panel({ xDomain: [2010, 2011.25], xRange: [50, 297.5], yDomain: [80, 104], yRange: [743, 453],
  side: "left", leftTick: 42, rightTick: 302, major: 4, minor: 2, majorLen: 5, majorLen2: 5, minorLen: 5,
  pad: 9, xTicks: monthTicks, xTickLen: 5, span: [42, 302] });
refLine(p3, 100, 42, 300);
line(p3, totalEuro, blue);
line(p3, finEuro, red);
const monthPos = [0.5, 3.5, 6.5, 9.5, 12.5].map(m => 2010 + m / 12);
xLabels(p3, monthLabels, monthPos, 763, 782, monthYearLabels);
text("Mar.", p3.x(2011.26), 763, "xlab", "middle");
text("11", p3.x(2011.26), 782, "xlab", "middle");
title([["Diferencias de la variación"], ["diaria del índice MSCI"], ["(1 de enero de 2010 = 100)"]], 55, 447, 23.3);
text("Total euro-total", 126, 518, "lab", "middle");
text("mundial", 127, 540, "lab", "middle");
text("Financiero", 198, 680, "lab", "middle");
text("euro-financiero", 197, 703, "lab", "middle");
text("mundial", 197, 725, "lab", "middle");

// 4. Diferencias MSCI (mundial)
const p4 = panel({ xDomain: [2010, 2011.25], xRange: [349.3, 596.8], yDomain: [90, 115], yRange: [745, 455],
  side: "right", leftTick: 341, rightTick: 599, major: 5, minor: 2.5, majorLen: 6, majorLen2: 5, minorLen: 5,
  pad: 4, xTicks: monthTicks, xTickLen: 5, span: [341, 599] });
refLine(p4, 100, 345, 600);
line(p4, consDisc, blue);
line(p4, finWorld, red);
xLabels(p4, monthLabels, monthPos, 763, 782, monthYearLabels);
text("Mar.", p4.x(2011.236), 763, "xlab", "middle");
text("11", p4.x(2011.236), 782, "xlab", "middle");
title([["Diferencias de la variación diaria"], ["del índice MSCI (1 de"], ["enero de 2010 = 100)"]], 349, 447, 23.3);
text("Consumidor", 543, 551, "lab", "middle");
text("discrecional", 544, 573, "lab", "middle");
text("mundial-Total", 542, 596, "lab", "middle");
text("mundial", 540, 618, "lab", "middle");
text("Financiero", 437, 687, "lab", "middle");
text("mundial-total", 436, 709, "lab", "middle");
text("mundial", 436, 731, "lab", "middle");

// 5. Rendimientos de los bonos públicos
const p5 = panel({ xDomain: [2002, 2011], xRange: [33.3, 288.3], yDomain: [0, 6], yRange: [1137, 845],
  side: "left", leftTick: 24, rightTick: 304, major: 1, minor: 0.5, majorLen: 6, majorLen2: 6, minorLen: 4,
  pad: 7, xTicks: yearTicksBonds, xTickLen: 6, span: [24, 302] });
line(p5, jpYield, yellow);
line(p5, deYield, red);
line(p5, usYield, blue);
xLabels(p5, yearLabelsBonds, [2002.5, 2004.5, 2006.5, 2008.5], 1154);
text("Mar.", p5.x(2011.12), 1154, "xlab", "middle");
text("11", p5.x(2011.2), 1175, "xlab", "middle");
title([["Rendimientos de los bonos"], ["públicos", "2"]], 55, 837, 23);
text("Estados", 92, 879);
text("Unidos", 91, 897);
text("Alemania", 115, 1007);
text("Japón", 122, 1095);

// 6. Diferenciales empresariales
const p6 = panel({ xDomain: [2000, 2011], xRange: [349.3, 581.7], yDomain: [0, 1800], yRange: [1137, 845],
  side: "right", leftTick: 341, rightTick: 598, major: 300, minor: 150, majorLen: 5, majorLen2: 4, minorLen: 4,
  pad: 3, xTicks: yearTicks, xTickLen: 6, span: [340, 598] });
line(p6, aaaSpread, red);
line(p6, bbSpread, blue);
xLabels(p6, yearLabels, [2000.5, 2002.5, 2004.5, 2006.5, 2008.5], 1154);
text("Mar.", p6.x(2011.15), 1154, "xlab", "middle");
text("11", p6.x(2011.2), 1175, "xlab", "middle");
title([["Diferenciales empresariales"], ["(puntos básicos; promedios"], ["de Europa y Estados Unidos)"]], 354, 835, 23);
text("BB", 432, 1073);
text("AAA", 384, 1122);

</script>
</body>
</html>
